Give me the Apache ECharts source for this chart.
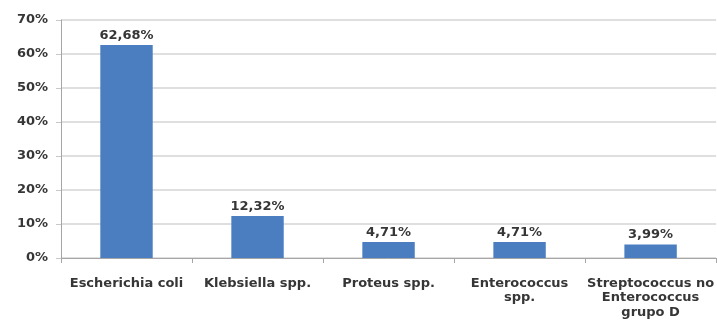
<!DOCTYPE html>
<html>
<head>
<meta charset="utf-8">
<script src="https://cdn.jsdelivr.net/npm/echarts@6/dist/echarts.min.js"></script>
<style>
  html, body { margin: 0; padding: 0; background: #fff; }
  #chart { width: 717px; height: 329px; }
</style>
</head>
<body>
<div id="chart"></div>
<script>
// Bacterial isolates, share of total (%)
var categories = [
  'Escherichia coli',
  'Klebsiella spp.',
  'Proteus spp.',
  'Enterococcus\nspp.',
  'Streptococcus no\nEnterococcus\ngrupo D'
];
var percentages = [62.68, 12.32, 4.71, 4.71, 3.99];
var yTicks = [0, 10, 20, 30, 40, 50, 60, 70];

var textColor = '#363636';
var fontFamily = '"DejaVu Sans", Arial, sans-serif';

function pct(v) {
  return v.toFixed(2).replace('.', ',') + '%';
}

var chart = echarts.init(document.getElementById('chart'), null, { renderer: 'canvas' });
chart.setOption({
  animation: false,
  backgroundColor: '#ffffff',
  grid: { left: 61, right: 0, top: 20, bottom: 71, containLabel: false },
  xAxis: {
    type: 'category',
    data: categories,
    boundaryGap: true,
    axisLine: { show: true, lineStyle: { color: '#a6a6a6', width: 1 } },
    axisTick: { show: true, length: 5, alignWithLabel: false, lineStyle: { color: '#a6a6a6' } },
    axisLabel: {
      interval: 0,
      margin: 18,
      color: textColor,
      fontFamily: fontFamily,
      fontWeight: 'bold',
      fontSize: 13,
      lineHeight: 14.5,
      align: 'center'
    },
    splitLine: { show: false }
  },
  yAxis: {
    type: 'value',
    min: yTicks[0],
    max: yTicks[yTicks.length - 1],
    interval: 10,
    axisLine: { show: true, lineStyle: { color: '#a6a6a6', width: 1 } },
    axisTick: { show: true, length: 5, lineStyle: { color: '#c8c8c8' } },
    axisLabel: {
      margin: 13,
      color: textColor,
      fontFamily: fontFamily,
      fontWeight: 'bold',
      fontSize: 13,
      formatter: function (v) { return v + '%'; }
    },
    splitLine: { show: true, lineStyle: { color: '#d4d4d4', width: 1.5 } }
  },
  series: [{
    type: 'bar',
    data: percentages,
    barWidth: '40%',
    itemStyle: { color: '#4a7ec0' },
    label: {
      show: true,
      position: 'top',
      distance: 3,
      color: textColor,
      fontFamily: fontFamily,
      fontWeight: 'bold',
      fontSize: 13,
      formatter: function (p) { return pct(p.value); }
    }
  }]
});
</script>
</body>
</html>
